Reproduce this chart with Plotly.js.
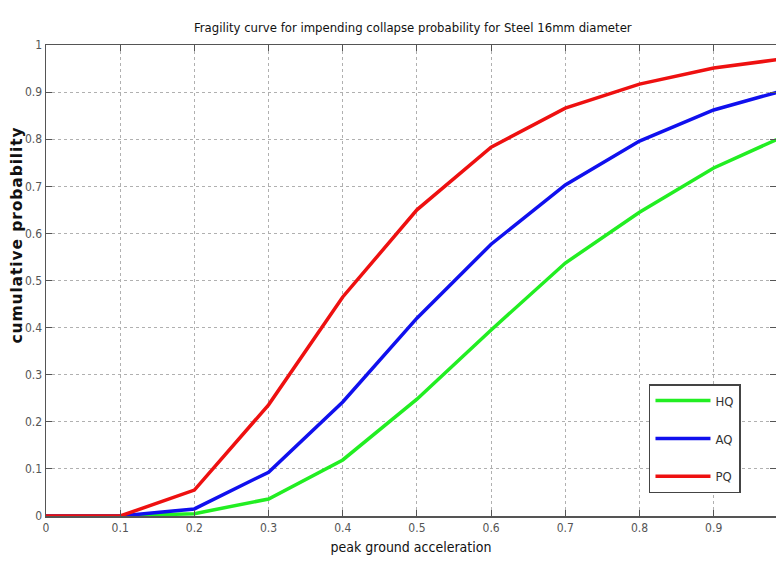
<!DOCTYPE html>
<html>
<head>
<meta charset="utf-8">
<script src="https://cdn.plot.ly/plotly-3.0.1.min.js"></script>
<style>
html,body{margin:0;padding:0;overflow:hidden;background:#fff;}
.annotation-text{letter-spacing:0.9px;}
</style>
</head>
<body>
<div id="chart" style="width:776px;height:565px;"></div>
<script>
const pga = [0, 0.1, 0.2, 0.3, 0.4, 0.5, 0.6, 0.7, 0.8, 0.9, 1.0];
const hq = [0, 0, 0.005, 0.036, 0.119, 0.248, 0.395, 0.537, 0.645, 0.739, 0.81];
const aq = [0, 0, 0.015, 0.093, 0.242, 0.42, 0.577, 0.703, 0.796, 0.862, 0.906];
const pq = [0, 0, 0.055, 0.236, 0.465, 0.65, 0.783, 0.866, 0.917, 0.951, 0.972];
const xTicks = [0, 0.1, 0.2, 0.3, 0.4, 0.5, 0.6, 0.7, 0.8, 0.9];
const xTickText = ['0', '0.1', '0.2', '0.3', '0.4', '0.5', '0.6', '0.7', '0.8', '0.9'];
const yTicks = [0, 0.1, 0.2, 0.3, 0.4, 0.5, 0.6, 0.7, 0.8, 0.9, 1];
const yTickText = ['0', '0.1', '0.2', '0.3', '0.4', '0.5', '0.6', '0.7', '0.8', '0.9', '1'];

const narrow = '"DejaVu Sans Condensed", "Liberation Sans Narrow", sans-serif';

const traces = [
  {x: pga, y: hq, name: 'HQ', legendgroup: 'hq', mode: 'lines', line: {color: '#22ee22', width: 3.5}},
  {x: pga, y: aq, name: 'AQ', legendgroup: 'aq', mode: 'lines', line: {color: '#1010ee', width: 3.5}},
  {x: pga, y: pq, name: 'PQ', legendgroup: 'pq', mode: 'lines', line: {color: '#ee1010', width: 3.5}}
];

const layout = {
  width: 776, height: 565,
  margin: {l: 46, r: 0, t: 45, b: 49},
  paper_bgcolor: '#fff', plot_bgcolor: '#fff',
  title: {text: 'Fragility curve for impending collapse probability for Steel 16mm diameter',
          font: {family: narrow, size: 13, color: '#111'}, x: 0.532, xanchor: 'center', y: 0.952, yanchor: 'middle'},
  xaxis: {
    range: [0, 0.984], tickvals: xTicks, ticktext: xTickText,
    showline: true, linecolor: '#555', linewidth: 1.5, mirror: 'ticks',
    ticks: 'inside', ticklen: 6, tickcolor: '#555',
    showgrid: true, gridcolor: '#b0b0b0', griddash: 'dot', gridwidth: 1,
    zeroline: false,
    tickfont: {family: narrow, size: 12, color: '#555'},
    title: {text: 'peak ground acceleration', font: {family: narrow, size: 14, color: '#111'}, standoff: 8}
  },
  yaxis: {
    range: [0, 1], tickvals: yTicks, ticktext: yTickText,
    showline: true, linecolor: '#555', linewidth: 1.5, mirror: 'ticks',
    ticks: 'inside', ticklen: 6, tickcolor: '#555',
    showgrid: true, gridcolor: '#b0b0b0', griddash: 'dot', gridwidth: 1,
    zeroline: false,
    tickfont: {family: narrow, size: 12, color: '#555'}
  },
  annotations: [{
    text: '<b>cumulative probability</b>', textangle: -90,
    xref: 'paper', yref: 'paper', x: -0.04, y: 0.597, xanchor: 'center', yanchor: 'middle',
    showarrow: false, font: {family: '"DejaVu Sans", Verdana, sans-serif', size: 15.5, color: '#111'}
  }],
  legend: {
    x: 0.826, y: 0.280, xanchor: 'left', yanchor: 'top',
    bgcolor: '#fff', bordercolor: '#444', borderwidth: 1.5,
    font: {family: narrow, size: 13, color: '#333'},
    traceorder: 'grouped', tracegroupgap: 18, itemwidth: 55
  },
  showlegend: true
};

Plotly.newPlot('chart', traces, layout, {displayModeBar: false, staticPlot: true});
</script>
</body>
</html>
